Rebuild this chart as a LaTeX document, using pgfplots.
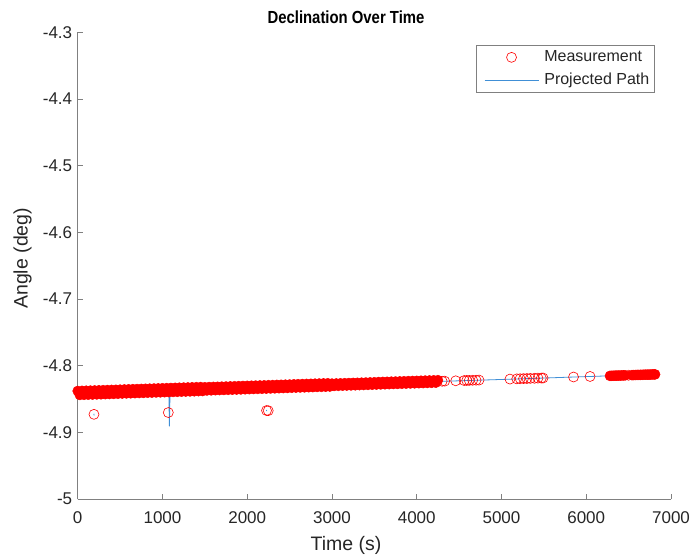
\documentclass[border=0pt]{standalone}
\usepackage{fontspec}
\setmainfont{Liberation Sans}
\newfontfamily\titlefont{Liberation Sans}[FakeStretch=0.85]
\usepackage{pgfplots}
\usepackage{pgfplotstable}
\pgfplotsset{compat=1.18}
\definecolor{mblue}{rgb}{0.25,0.56,0.84}
\definecolor{mtext}{rgb}{0.15,0.15,0.15}
\definecolor{maxis}{rgb}{0.5,0.5,0.5}
\pgfplotsset{
  legmark/.style={legend image code/.code={\path (-5pt,0pt) (57pt,0pt); \draw[mark repeat=2, mark phase=2, ##1] plot coordinates {(0pt,0pt) (27pt,0pt) (54pt,0pt)};}},
  legline/.style={legend image code/.code={\path (-5pt,0pt) (57pt,0pt); \draw[##1] (0pt,0pt) -- (54pt,0pt);}},
}

% dense band, upper row
\pgfplotstableread{
x y
0 -4.8380
50 -4.8378
100 -4.8376
150 -4.8374
200 -4.8372
250 -4.8370
300 -4.8368
350 -4.8366
400 -4.8364
450 -4.8362
500 -4.8360
550 -4.8357
600 -4.8355
650 -4.8353
700 -4.8351
750 -4.8349
800 -4.8347
850 -4.8345
900 -4.8343
950 -4.8341
1000 -4.8339
1050 -4.8337
1100 -4.8335
1150 -4.8333
1200 -4.8331
1250 -4.8329
1300 -4.8327
1350 -4.8325
1400 -4.8323
1450 -4.8321
1500 -4.8324
1550 -4.8321
1600 -4.8319
1650 -4.8317
1700 -4.8315
1750 -4.8313
1800 -4.8311
1850 -4.8309
1900 -4.8307
1950 -4.8305
2000 -4.8303
2050 -4.8301
2100 -4.8299
2150 -4.8297
2200 -4.8295
2250 -4.8293
2300 -4.8291
2350 -4.8289
2400 -4.8287
2450 -4.8285
2500 -4.8283
2550 -4.8280
2600 -4.8278
2650 -4.8276
2700 -4.8274
2750 -4.8272
2800 -4.8270
2850 -4.8268
2900 -4.8266
2950 -4.8264
3000 -4.8269
3050 -4.8267
3100 -4.8265
3150 -4.8263
3200 -4.8261
3250 -4.8259
3300 -4.8257
3350 -4.8255
3400 -4.8253
3450 -4.8251
3500 -4.8249
3550 -4.8246
3600 -4.8244
3650 -4.8242
3700 -4.8240
3750 -4.8238
3800 -4.8236
3850 -4.8234
3900 -4.8232
3950 -4.8230
4000 -4.8228
4050 -4.8226
4100 -4.8224
4150 -4.8222
4200 -4.8220
4250 -4.8218
6280 -4.8153
6300 -4.8152
6320 -4.8151
6340 -4.8150
6360 -4.8149
6380 -4.8148
6400 -4.8148
6420 -4.8147
6440 -4.8146
6460 -4.8145
6540 -4.8142
6560 -4.8141
6580 -4.8140
6600 -4.8139
6620 -4.8139
6640 -4.8138
6660 -4.8137
6680 -4.8136
6700 -4.8135
6720 -4.8134
6740 -4.8134
6760 -4.8133
6780 -4.8132
6800 -4.8131
6812 -4.8131
}\denseup

% dense band, lower row
\pgfplotstableread{
x y
25 -4.8439
75 -4.8437
125 -4.8435
175 -4.8433
225 -4.8431
275 -4.8429
325 -4.8427
375 -4.8425
425 -4.8423
475 -4.8421
525 -4.8418
575 -4.8416
625 -4.8414
675 -4.8412
725 -4.8410
775 -4.8408
825 -4.8406
875 -4.8404
925 -4.8402
975 -4.8400
1025 -4.8398
1075 -4.8396
1125 -4.8394
1175 -4.8392
1225 -4.8390
1275 -4.8388
1325 -4.8386
1375 -4.8384
1425 -4.8382
1475 -4.8380
1525 -4.8372
1575 -4.8370
1625 -4.8368
1675 -4.8366
1725 -4.8364
1775 -4.8362
1825 -4.8360
1875 -4.8358
1925 -4.8356
1975 -4.8354
2025 -4.8352
2075 -4.8350
2125 -4.8348
2175 -4.8346
2225 -4.8344
2275 -4.8342
2325 -4.8340
2375 -4.8338
2425 -4.8336
2475 -4.8334
2525 -4.8331
2575 -4.8329
2625 -4.8327
2675 -4.8325
2725 -4.8323
2775 -4.8321
2825 -4.8319
2875 -4.8317
2925 -4.8315
2975 -4.8313
3025 -4.8304
3075 -4.8302
3125 -4.8300
3175 -4.8298
3225 -4.8296
3275 -4.8294
3325 -4.8292
3375 -4.8290
3425 -4.8288
3475 -4.8286
3525 -4.8283
3575 -4.8281
3625 -4.8279
3675 -4.8277
3725 -4.8275
3775 -4.8273
3825 -4.8271
3875 -4.8269
3925 -4.8267
3975 -4.8265
4025 -4.8263
4075 -4.8261
4125 -4.8259
4175 -4.8257
4225 -4.8255
}\denselow

\pgfplotstableread{
x y
192 -4.8730
1069 -4.8703
2228 -4.8673
2248 -4.8675
4300 -4.8234
4330 -4.8232
4460 -4.8227
4560 -4.8223
4590 -4.8222
4620 -4.8221
4660 -4.8219
4700 -4.8218
4735 -4.8216
5100 -4.8201
5180 -4.8198
5220 -4.8196
5260 -4.8194
5300 -4.8193
5340 -4.8191
5390 -4.8189
5430 -4.8187
5470 -4.8186
5490 -4.8185
5850 -4.8170
6045 -4.8162
6500 -4.8144
}\sparsedata

\pgfplotstableread{
x y
0 -4.8412
1075 -4.8395
1082 -4.8912
1090 -4.8364
3700 -4.8258
4300 -4.8235
5100 -4.8203
6000 -4.8164
6810 -4.8130
6810 nan
190 -4.8722
194 -4.8745
194 nan
2227 -4.8665
2230 -4.8682
}\pathdata

\begin{document}
\begin{tikzpicture}
\useasboundingbox (0,0) rectangle (692pt,558pt);
\begin{axis}[
  at={(77.7pt,59pt)}, anchor=south west,
  scale only axis, width=593.3pt, height=466.7pt,
  xmin=0, xmax=7000, ymin=-5, ymax=-4.3,
  clip=false,
  axis lines=left,
  axis line style={-, draw=maxis, line width=0.6pt},
  tick align=inside, major tick length=5pt,
  tick style={draw=maxis, line width=0.6pt},
  scaled ticks=false,
  xtick={0,1000,2000,3000,4000,5000,6000,7000},
  xticklabels={0,1000,2000,3000,4000,5000,6000,7000},
  ytick={-5,-4.9,-4.8,-4.7,-4.6,-4.5,-4.4,-4.3},
  yticklabels={-5,-4.9,-4.8,-4.7,-4.6,-4.5,-4.4,-4.3},
  ticklabel style={font=\fontsize{17}{19}\selectfont, text=mtext},
  xticklabel style={yshift=-9pt},
  yticklabel style={xshift=-2pt},
  title={Declination Over Time},
  title style={at={(axis description cs:0.4522,1.0193)}, anchor=center, font=\titlefont\fontsize{17.5}{20}\selectfont\bfseries, text=black},
  xlabel={Time (s)},
  xlabel style={at={(axis description cs:0.4522,-0.0986)}, anchor=center, font=\fontsize{19.5}{22}\selectfont, text=mtext},
  ylabel={Angle (deg)},
  ylabel style={at={(axis description cs:-0.0930,0.5158)}, anchor=center, font=\fontsize{19.5}{22}\selectfont, text=mtext},
  legend style={at={(0.973,0.973)}, anchor=north east, draw=maxis, line width=0.6pt,
    font=\fontsize{16}{18}\selectfont, text=mtext, inner xsep=3pt, inner ysep=2pt,
    row sep=2.5pt, column sep=0pt,
    nodes={inner sep=2.4pt, text height=12pt, text depth=3.5pt}},
  legend cell align=left,
]
\addplot[only marks, mark=*, mark size=5pt, draw=red, fill=red, line width=0.5pt, forget plot] table {\denseup};
\addplot[only marks, mark=*, mark size=5pt, draw=red, fill=red, line width=0.5pt, forget plot] table {\denselow};
\addplot[only marks, mark=o, mark size=5pt, draw=red, line width=0.6pt, legmark] table {\sparsedata};
\addlegendentry{Measurement}
\addplot[draw=mblue, color=mblue, line width=0.8pt, unbounded coords=jump, mark=none, legline] table {\pathdata};
\addlegendentry{Projected Path}
\end{axis}
\end{tikzpicture}
\end{document}
